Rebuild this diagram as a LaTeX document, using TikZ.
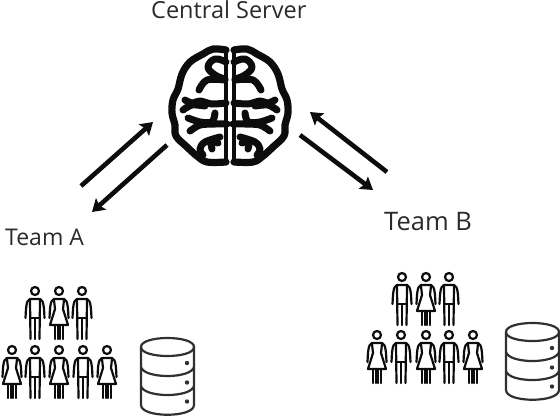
\documentclass[tikz,border=0pt]{standalone}
\usepackage{fontspec}
\setmainfont{Open Sans}
\usetikzlibrary{arrows.meta}
\definecolor{ink}{HTML}{0C0C0C}
\definecolor{txt}{HTML}{2A2A2A}
\tikzset{
  x=1pt,y=-1pt,
  label/.style={inner sep=0pt,text=txt,font=\fontsize{23.5}{24}\selectfont,anchor=base west},
  flow/.style={draw=ink,line width=4.6pt,-{Stealth[length=12pt,width=15pt,inset=2pt]}},
  person/.style={draw=ink,line width=2.2pt,line join=round,line cap=round},
  brainline/.style={draw=ink,line width=7.2pt,line cap=round,line join=round,fill=none},
  foldline/.style={draw=ink,line width=7pt,line cap=round,line join=round,fill=none},
  dbline/.style={draw=ink!85,line width=2.2pt},
  man/.pic={
    \draw[person] (0,0) circle (4);
    \draw[person] (-9.5,27) .. controls (-9,18) and (-9,9) .. (-5,8) -- (5,8) .. controls (9,9) and (9,18) .. (9.5,27);
    \draw[person] (-5,9) -- (-4.5,48) (5,9) -- (4.5,48);
    \draw[person] (0,28) -- (0,48);
    \draw[person] (-4.5,27) -- (4.5,27);
  },
  woman/.pic={
    \draw[person] (0,0) circle (4);
    \draw[person] (-9.5,27) .. controls (-9,18) and (-9,9) .. (-5,8) -- (5,8) .. controls (9,9) and (9,18) .. (9.5,27);
    \draw[person] (-5,9) -- (-4,18) -- (-9,34) -- (9,34) -- (4,18) -- (5,9);
    \draw[person] (-4,34) -- (-4,48) (-1,34) -- (-1,48) (1,34) -- (1,48) (4,34) -- (4,48);
  },
  dbicon/.pic={
    \draw[dbline] (0,9) .. controls (0,-3) and (53,-3) .. (53,9) .. controls (53,21) and (0,21) .. (0,9) -- cycle;
    \draw[dbline] (0,9) -- (0,67) .. controls (0,80) and (53,80) .. (53,67) -- (53,9);
    \draw[dbline] (0,29) .. controls (3,41) and (50,41) .. (53,29);
    \draw[dbline] (0,48) .. controls (3,60) and (50,60) .. (53,48);
    \fill[ink!85] (46,25) circle (2.2) (46,44.5) circle (2.2) (46,63.5) circle (2.2);
  },
  brainhalf/.pic={
    \draw[brainline] plot[smooth,tension=.6] coordinates {(-4,50) (-17,49) (-27,54) (-40,62) (-48,74) (-52,89) (-57,100) (-58,113) (-55,125) (-54,136) (-43,147) (-33,156) (-23,162) (-4,162)};
    \draw[draw=ink,line width=4.4pt] (-4,48) -- (-4,164);
    \draw[foldline] plot[smooth,tension=.7] coordinates {(-4,62) (-15,59) (-22,67) (-15,75) (-5,79)};
    \draw[foldline] plot[smooth,tension=.6] coordinates {(-5,80) (-23,80) (-31,90)};
    \draw[foldline] plot[smooth,tension=.5] coordinates {(-4,103) (-18,104) (-30,101) (-38,103) (-45,100)};
    \draw[foldline] plot[smooth,tension=.5] coordinates {(-47,110) (-38,105) (-25,106)};
    \draw[foldline] plot[smooth,tension=.5] coordinates {(-42,118) (-30,122) (-18,122) (-15,113)};
    \draw[foldline] plot[smooth,tension=.5] coordinates {(-40,131) (-30,125) (-15,124) (-3,124)};
    \draw[foldline] plot[smooth,tension=.6] coordinates {(-10,137) (-25,142) (-30,149) (-27,155)};
    \draw[foldline] (-18,149) -- (-20,140) -- (-12,143);
  }
}
\begin{document}
\begin{tikzpicture}
\useasboundingbox (0,0) rectangle (560,416);
\node[label] (central) at (151,18) {Central Server};
\node[label,font=\fontsize{23}{24}\selectfont] (teama) at (5,245) {Team A};
\node[label,font=\fontsize{25.5}{26}\selectfont] (teamb) at (384,230) {Team B};

\pic at (230,0) {brainhalf};
\pic[xscale=-1] at (230,0) {brainhalf};

\coordinate (a1s) at (81,186); \coordinate (a1e) at (153,122);
\coordinate (a2s) at (167,145); \coordinate (a2e) at (92,212);
\coordinate (b1s) at (387,172); \coordinate (b1e) at (310,112);
\coordinate (b2s) at (300,135); \coordinate (b2e) at (373,190);
\draw[flow] (a1s) -- (a1e);
\draw[flow] (a2s) -- (a2e);
\draw[flow] (b1s) -- (b1e);
\draw[flow] (b2s) -- (b2e);

\pic at (35,291) {man};
\pic at (59,291) {woman};
\pic at (82,291) {man};
\pic at (12,350) {woman};
\pic at (35,350) {man};
\pic at (59,350) {woman};
\pic at (83,350) {man};
\pic at (107,350) {woman};
\pic at (141,338) {dbicon};

\pic at (402,277) {man};
\pic at (426,277) {woman};
\pic at (449,277) {man};
\pic at (377,335) {woman};
\pic at (401,335) {man};
\pic at (426,335) {woman};
\pic at (449,335) {man};
\pic at (473,335) {woman};
\pic at (506,323) {dbicon};
\end{tikzpicture}
\end{document}
